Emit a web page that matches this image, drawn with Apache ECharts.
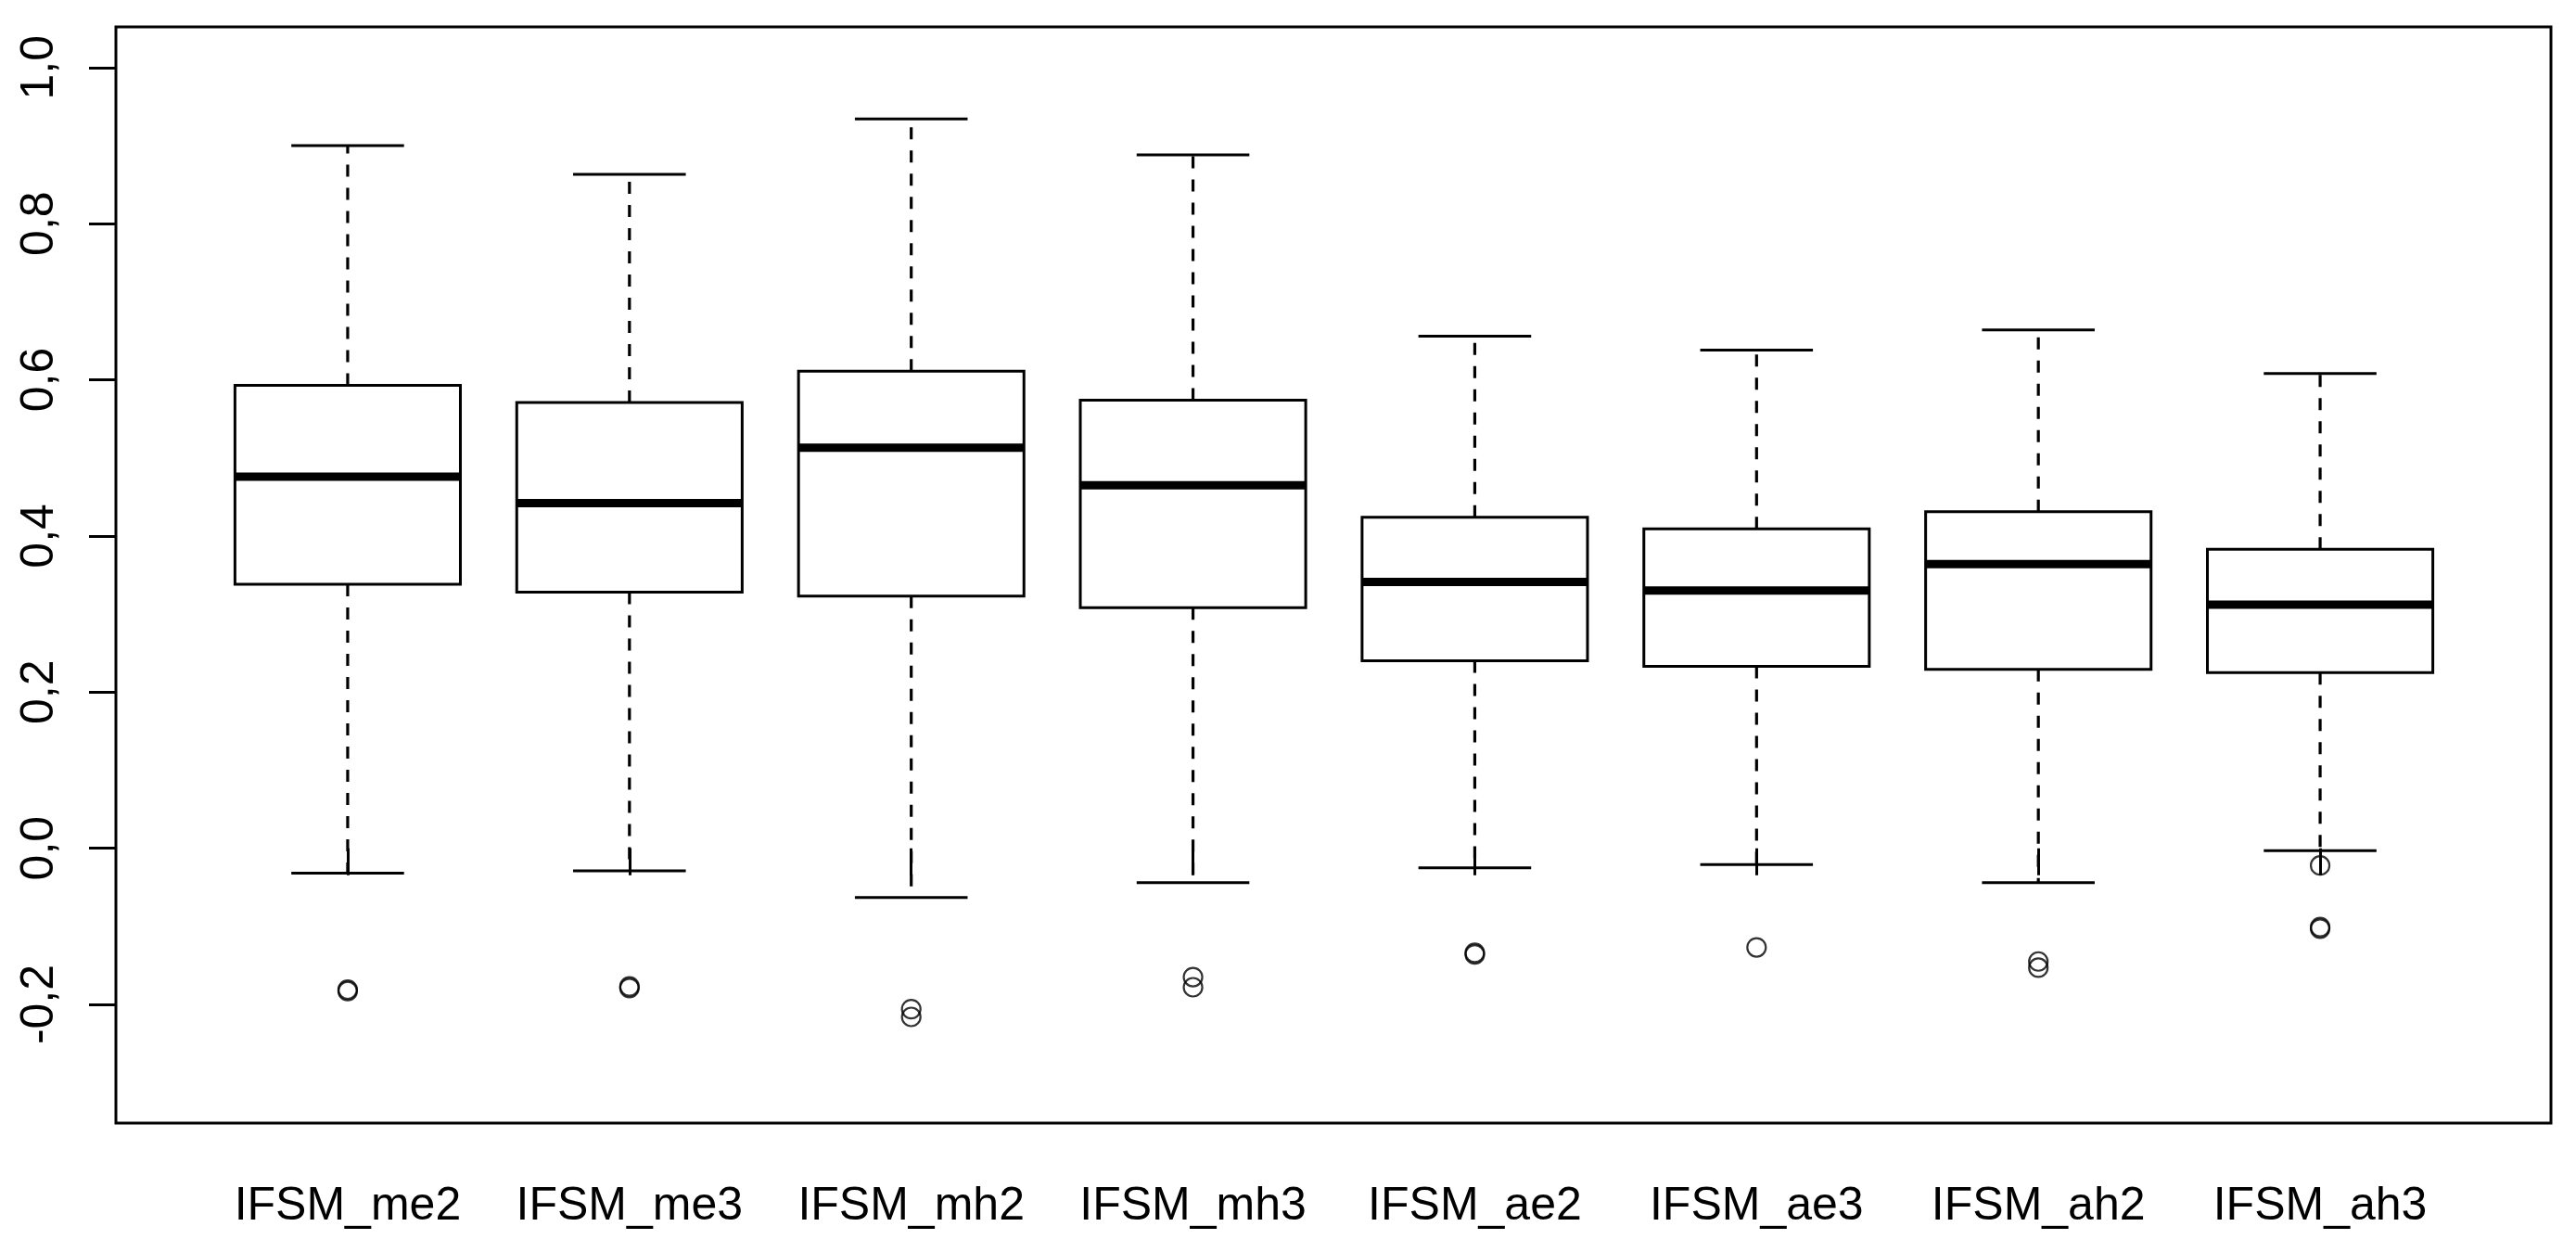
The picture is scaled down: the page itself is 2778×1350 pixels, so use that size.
<!DOCTYPE html>
<html>
<head>
<meta charset="utf-8">
<script src="https://cdn.jsdelivr.net/npm/echarts@6/dist/echarts.min.js"></script>
<style>
html,body{margin:0;padding:0;background:#fff;}
#chart{width:2778px;height:1350px;}
</style>
</head>
<body>
<div id="chart"></div>
<script>
const categories = ['IFSM_me2','IFSM_me3','IFSM_mh2','IFSM_mh3','IFSM_ae2','IFSM_ae3','IFSM_ah2','IFSM_ah3'];
const whiskerLow  = [-0.032, -0.029, -0.063, -0.044, -0.025, -0.021, -0.044, -0.003];
const q1          = [ 0.338,  0.328,  0.323,  0.308,  0.240,  0.233,  0.229,  0.225];
const median      = [ 0.476,  0.442,  0.513,  0.465,  0.341,  0.330,  0.364,  0.312];
const q3          = [ 0.593,  0.571,  0.611,  0.574,  0.424,  0.409,  0.431,  0.383];
const whiskerHigh = [ 0.900,  0.863,  0.934,  0.888,  0.656,  0.638,  0.664,  0.608];
const outlierCat  = [0, 0, 1, 1, 2, 2, 3, 3, 4, 4, 5, 6, 6, 7, 7, 7];
const outlierVal  = [-0.181, -0.183, -0.177, -0.179, -0.206, -0.216, -0.165, -0.178, -0.134, -0.136, -0.127, -0.145, -0.153, -0.022, -0.101, -0.103];
const yTicks = [-0.2, 0.0, 0.2, 0.4, 0.6, 0.8, 1.0];
const yMin = -0.352, yMax = 1.052;

const boxData = categories.map((c, i) => [i, whiskerLow[i], q1[i], median[i], q3[i], whiskerHigh[i]]);
const outlierData = outlierCat.map((c, i) => [c, outlierVal[i]]);

const BOX_WEX = 0.8, STAPLE = 0.5;
const FONT = '"Liberation Sans", Arial, sans-serif';

function renderBox(params, api) {
  const i = api.value(0);
  const band = api.size([1, 0])[0];
  const bh = band * BOX_WEX / 2;
  const ch = band * BOX_WEX * STAPLE / 2;
  const pMin = api.coord([i, api.value(1)]);
  const pQ1 = api.coord([i, api.value(2)]);
  const pMed = api.coord([i, api.value(3)]);
  const pQ3 = api.coord([i, api.value(4)]);
  const pMax = api.coord([i, api.value(5)]);
  const x = pMed[0];
  const dashStyle = {stroke: '#000', lineWidth: 3.2, lineDash: [13, 12], fill: null};
  const solid = {stroke: '#000', lineWidth: 3, fill: null};
  return {
    type: 'group',
    children: [
      {type: 'line', shape: {x1: x, y1: pQ3[1], x2: x, y2: pMax[1]}, style: dashStyle},
      {type: 'line', shape: {x1: x, y1: pQ1[1], x2: x, y2: pMin[1]}, style: dashStyle},
      {type: 'line', shape: {x1: x - ch, y1: pMax[1], x2: x + ch, y2: pMax[1]}, style: solid},
      {type: 'line', shape: {x1: x - ch, y1: pMin[1], x2: x + ch, y2: pMin[1]}, style: solid},
      {type: 'rect', shape: {x: x - bh, y: pQ3[1], width: 2 * bh, height: pQ1[1] - pQ3[1]}, style: {stroke: '#000', lineWidth: 3, fill: '#fff'}},
      {type: 'line', shape: {x1: x - bh, y1: pMed[1], x2: x + bh, y2: pMed[1]}, style: {stroke: '#000', lineWidth: 9, lineCap: 'butt', fill: null}}
    ]
  };
}

const chart = echarts.init(document.getElementById('chart'), null, {renderer: 'canvas'});
chart.setOption({
  backgroundColor: '#fff',
  animation: false,
  grid: [
    {left: 125, top: 29, right: 27, bottom: 139, show: true, borderColor: '#000', borderWidth: 3, backgroundColor: 'transparent', containLabel: false},
    {left: 223, top: 29, width: 2431, bottom: 139, containLabel: false}
  ],
  xAxis: [
    {gridIndex: 0, type: 'value', min: 0, max: 1, show: false},
    {gridIndex: 1, type: 'category', data: categories, boundaryGap: true,
     axisLine: {show: false},
     axisTick: {show: true, alignWithLabel: true, length: 29, lineStyle: {color: '#000', width: 3}},
     axisLabel: {show: true, interval: 0, margin: 65, color: '#000', fontSize: 50, fontFamily: FONT},
     splitLine: {show: false}}
  ],
  yAxis: [
    {gridIndex: 0, type: 'value', min: yMin, max: yMax,
     axisLine: {show: false},
     axisTick: {show: true, length: 29, lineStyle: {color: '#000', width: 3}, customValues: yTicks},
     axisLabel: {show: true, rotate: 90, margin: 57, color: '#000', fontSize: 50, fontFamily: FONT,
       customValues: yTicks,
       formatter: v => (Math.round(v * 10) / 10).toFixed(1).replace('.', ',')},
     splitLine: {show: false}},
    {gridIndex: 1, type: 'value', min: yMin, max: yMax, show: false}
  ],
  series: [
    {type: 'custom', xAxisIndex: 1, yAxisIndex: 1, data: boxData, renderItem: renderBox,
     encode: {x: 0, y: [1, 2, 3, 4, 5]}, silent: true, clip: false},
    {type: 'scatter', xAxisIndex: 1, yAxisIndex: 1, data: outlierData, symbol: 'circle', symbolSize: 20,
     itemStyle: {color: 'transparent', borderColor: '#000', borderWidth: 2.2}, silent: true}
  ]
});
</script>
</body>
</html>
